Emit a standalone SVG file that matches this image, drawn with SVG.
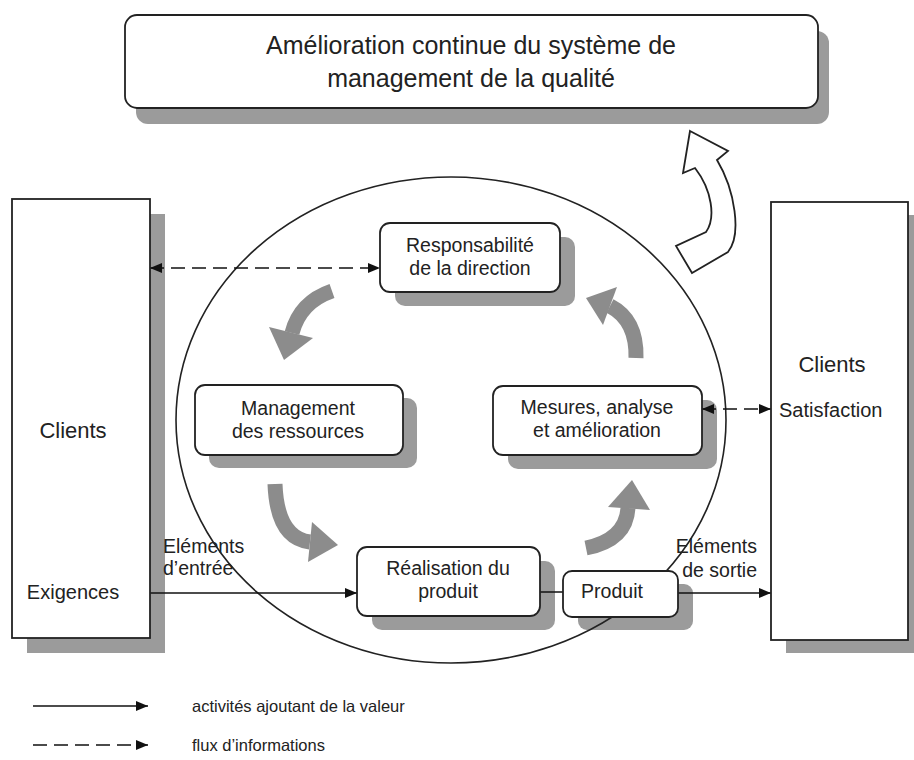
<svg xmlns="http://www.w3.org/2000/svg" width="914" height="760" viewBox="0 0 914 760">
<defs>
<marker id="ah" viewBox="0 0 12 10" refX="12" refY="5" markerWidth="12" markerHeight="10" markerUnits="userSpaceOnUse" orient="auto-start-reverse"><path d="M0,0 L12,5 L0,10 z" fill="#111"/></marker>
</defs>
<style>
.box{fill:#fff;stroke:#222;stroke-width:1.8}
.sh{fill:#9b9b9b}
.t{font-family:"Liberation Sans",Arial,sans-serif;fill:#222;text-anchor:middle}
.s{text-anchor:start}
.e{text-anchor:end}
.ln{stroke:#111;stroke-width:1.5;fill:none}
.dash{stroke-dasharray:14 7}
.ga{stroke:#8c8c8c;stroke-width:15;fill:none}
.gh{fill:#8c8c8c}
</style>
<rect width="914" height="760" fill="#fff"/>
<g id="shadows">
<rect class="sh" x="136" y="31" width="693" height="93" rx="12"/>
<rect class="sh" x="27" y="214" width="138" height="439"/>
<rect class="sh" x="786" y="215" width="137" height="438"/>
<rect class="sh" x="395" y="237" width="180" height="69" rx="10"/>
<rect class="sh" x="209" y="398" width="208" height="70" rx="10"/>
<rect class="sh" x="508" y="400" width="209" height="69" rx="10"/>
<rect class="sh" x="372" y="561" width="183" height="69" rx="10"/>
<rect class="sh" x="578" y="584" width="115" height="46" rx="9"/>
</g>
<ellipse id="cycle" cx="451" cy="420" rx="275" ry="243" fill="none" stroke="#222" stroke-width="1.6"/>
<g id="connectors">
<path class="ln dash" d="M150,268 L380,268" marker-start="url(#ah)" marker-end="url(#ah)"/>
<path class="ln dash" d="M702,409 L771,409" marker-start="url(#ah)" marker-end="url(#ah)"/>
<path class="ln" d="M150,593 L357,593" marker-end="url(#ah)"/>
<path class="ln" d="M540,592 L563,592"/>
<path class="ln" d="M678,593 L771,593" marker-end="url(#ah)"/>
<path class="ga" d="M332,291 Q300,302 292,333"/>
<polygon class="gh" points="269,327 313,338 284,360"/>
<path class="ga" d="M275,484 Q277,538 310,542"/>
<polygon class="gh" points="312,522 338,545 308,562"/>
<path class="ga" d="M586,548 Q626,540 628,508"/>
<polygon class="gh" points="608,507 632,480 650,510"/>
<path class="ga" d="M636,358 Q637,320 610,306"/>
<polygon class="gh" points="617,287 586,298 603,325"/>
<path id="bigarrow" d="M690,131 L728,151 L717,160 C735,190 742,235 728,252 L692,273 L676,246 L706,232 C716,218 712,190 695,168 L683,173 Z" fill="#fff" stroke="#222" stroke-width="1.8" stroke-linejoin="miter"/>
</g>
<g id="top">
<rect class="box" x="125" y="15" width="693" height="93" rx="12"/>
<text class="t" x="471" y="54" font-size="25">Amélioration continue du système de</text>
<text class="t" x="471" y="87" font-size="25">management de la qualité</text>
</g>
<g id="clients-left">
<rect class="box" x="12" y="199" width="138" height="439"/>
<text class="t" x="73" y="438" font-size="22">Clients</text>
<text class="t" x="73" y="599" font-size="20">Exigences</text>
</g>
<g id="clients-right">
<rect class="box" x="771" y="202" width="137" height="438"/>
<text class="t" x="832" y="372" font-size="22">Clients</text>
<text class="t s" x="779" y="417" font-size="20">Satisfaction</text>
</g>
<g id="responsabilite">
<rect class="box" x="380" y="223" width="180" height="69" rx="10"/>
<text class="t" x="470" y="252" font-size="19.5">Responsabilité</text>
<text class="t" x="470" y="275" font-size="19.5">de la direction</text>
</g>
<g id="management">
<rect class="box" x="195" y="385" width="208" height="70" rx="10"/>
<text class="t" x="298" y="415" font-size="19.5">Management</text>
<text class="t" x="298" y="438" font-size="19.5">des ressources</text>
</g>
<g id="mesures">
<rect class="box" x="493" y="386" width="209" height="69" rx="10"/>
<text class="t" x="597" y="414" font-size="19.5">Mesures, analyse</text>
<text class="t" x="597" y="437" font-size="19.5">et amélioration</text>
</g>
<g id="realisation">
<rect class="box" x="357" y="547" width="183" height="69" rx="10"/>
<text class="t" x="448" y="575" font-size="19.5">Réalisation du</text>
<text class="t" x="448" y="598" font-size="19.5">produit</text>
</g>
<g id="produit">
<rect class="box" x="563" y="571" width="115" height="46" rx="9"/>
<text class="t" x="612" y="598" font-size="19.5">Produit</text>
</g>
<g id="labels">
<text class="t s" x="163" y="553" font-size="19.5">Eléments</text>
<text class="t s" x="163" y="575" font-size="19.5">d’entrée</text>
<text class="t e" x="757" y="553" font-size="19.5">Eléments</text>
<text class="t e" x="757" y="577" font-size="19.5">de sortie</text>
</g>
<g id="legend">
<path class="ln" d="M33,706 L148,706" marker-end="url(#ah)"/>
<path class="ln dash" d="M33,745 L148,745" marker-end="url(#ah)"/>
<text class="t s" x="192" y="712" font-size="16.5">activités ajoutant de la valeur</text>
<text class="t s" x="192" y="751" font-size="16.5">flux d’informations</text>
</g>
</svg>
